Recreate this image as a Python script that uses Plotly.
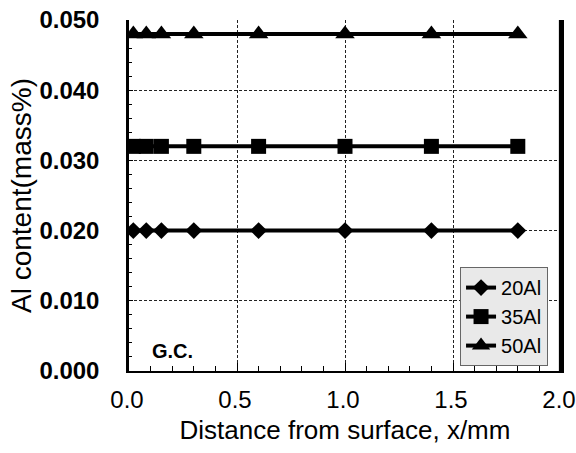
import plotly.graph_objects as go

x_mm = [0.02, 0.08, 0.15, 0.3, 0.6, 1.0, 1.4, 1.8]
al20 = [0.020, 0.020, 0.020, 0.020, 0.020, 0.020, 0.020, 0.020]
al35 = [0.032, 0.032, 0.032, 0.032, 0.032, 0.032, 0.032, 0.032]
al50 = [0.048, 0.048, 0.048, 0.048, 0.048, 0.048, 0.048, 0.048]
names = ["20Al", "35Al", "50Al"]
symbols = ["diamond", "square", "triangle-up"]
sizes = [13, 15, 17]
x_ticks = [0, 0.5, 1.0, 1.5, 2.0]
x_ticklabels = ["0.0", "0.5", "1.0", "1.5", "2.0"]
y_ticks = [0, 0.01, 0.02, 0.03, 0.04, 0.05]
y_ticklabels = ["0.000", "0.010", "0.020", "0.030", "0.040", "0.050"]

fig = go.Figure()
for name, ys, sym, sz in zip(names, [al20, al35, al50], symbols, sizes):
    fig.add_trace(go.Scatter(
        x=x_mm, y=ys, name=name, mode="lines+markers",
        line=dict(color="black", width=4),
        marker=dict(symbol=sym, size=sz, color="black"),
    ))

font = "Liberation Sans, Arial, sans-serif"
fig.update_layout(
    width=576, height=453,
    margin=dict(l=129, r=15, t=20, b=82),
    plot_bgcolor="white", paper_bgcolor="white",
    font=dict(family=font, color="black", size=20),
    showlegend=True,
    legend=dict(x=0.970, y=0.014, xanchor="right", yanchor="bottom",
                bgcolor="#e9e9e9", bordercolor="#666666", borderwidth=1,
                font=dict(size=20), itemsizing="trace", tracegroupgap=0),
    xaxis=dict(range=[0, 2.0], tickvals=x_ticks, ticktext=x_ticklabels,
               showline=True, linecolor="black", linewidth=2, mirror=False,
               showgrid=True, gridcolor="#222222", griddash="3px,2px", gridwidth=1,
               ticks="inside", ticklen=8, tickcolor="black", tickwidth=1,
               minor=dict(dtick=0.1, ticks="inside", ticklen=5, tickcolor="black", showgrid=False),
               zeroline=False, automargin=False, ticklabelstandoff=6,
               ticklabeloverflow="allow", ticklabelshift=-2,
               title=dict(text="Distance from surface, x/mm", font=dict(size=26), standoff=9),
               tickfont=dict(size=24)),
    yaxis=dict(range=[0, 0.050], tickvals=y_ticks, ticktext=y_ticklabels,
               showline=True, linecolor="black", linewidth=2.5, mirror=True,
               showgrid=True, gridcolor="#222222", griddash="3px,2px", gridwidth=1,
               ticks="inside", ticklen=4, tickcolor="black", tickwidth=1,
               minor=dict(dtick=0.002, ticks="inside", ticklen=3, tickcolor="black", showgrid=False),
               zeroline=False, automargin=False, ticklabelstandoff=22,
               title=dict(text="Al content(mass%)", font=dict(size=28), standoff=0),
               tickfont=dict(size=24, weight="bold")),
)
# right frame line of the plot area
fig.add_shape(type="line", xref="paper", yref="paper", x0=0.998, x1=0.998, y0=0, y1=1,
              line=dict(color="black", width=2.5), layer="above")
fig.add_annotation(x=0.097, y=0.0028, xref="x", yref="y", text="<b>G.C.</b>",
                   showarrow=False, xanchor="left", yanchor="middle",
                   font=dict(size=20, family=font, color="black"))
fig.write_html("out.html", config={"displayModeBar": False},
               post_script="document.body.style.margin='0';document.body.style.overflow='hidden';")
